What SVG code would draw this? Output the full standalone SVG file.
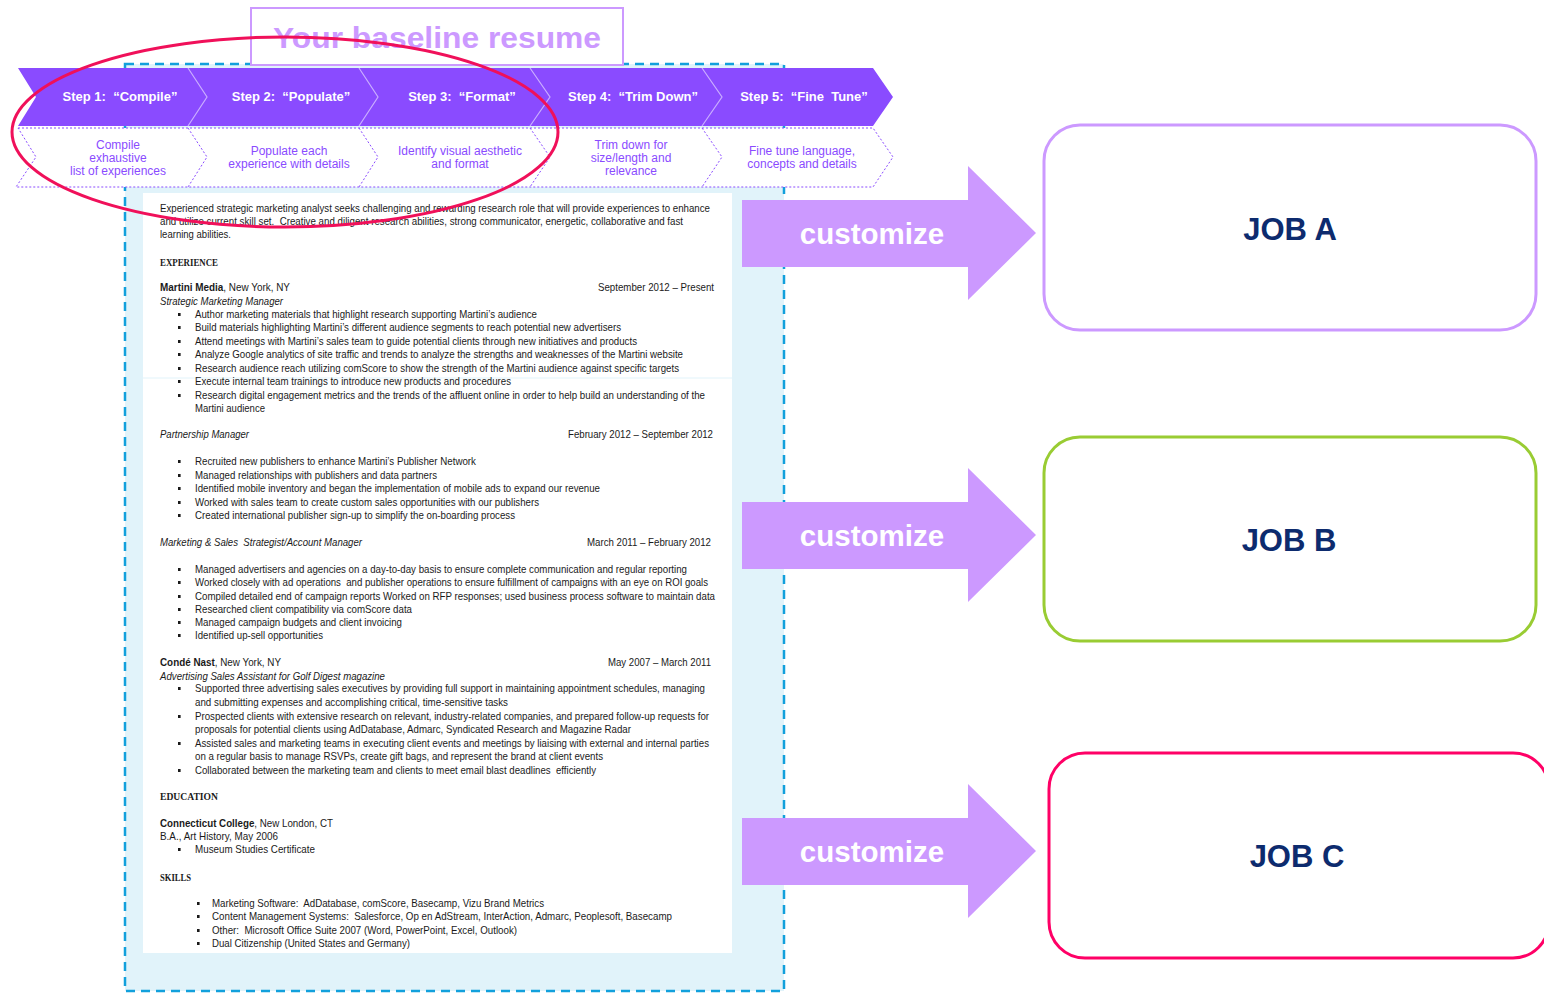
<svg xmlns="http://www.w3.org/2000/svg" xmlns:xlink="http://www.w3.org/1999/xlink" width="1544" height="995" viewBox="0 0 1544 995">
<defs>
<style>
.band{fill:#8A4BFF}
.div{fill:none;stroke:#FFFFFF;stroke-opacity:0.55;stroke-width:1.2}
.dash{fill:none;stroke:#8A4BFF;stroke-width:1;stroke-dasharray:2 2}
.step{font-family:"Liberation Sans",Arial,sans-serif;font-weight:bold;font-size:13px;fill:#FFFFFF;text-anchor:middle;white-space:pre}
.sub{font-family:"Liberation Sans",Arial,sans-serif;font-size:12px;fill:#8A4BFF;text-anchor:middle}
.r{font-family:"Liberation Sans Narrow","Liberation Sans",Arial,sans-serif;font-size:10.5px;fill:#1A1A1A;white-space:pre}
.rb{font-weight:bold}
.ri{font-style:italic}
.rh{font-family:"Liberation Serif","Times New Roman",serif;font-size:11px;font-weight:bold;fill:#1A1A1A}
.rd{text-anchor:end}
.arrow{fill:#CC99FF}
.cust{font-family:"Liberation Sans",Arial,sans-serif;font-weight:bold;font-size:29.5px;fill:#FFFFFF;text-anchor:middle}
.job{fill:#FFFFFF;stroke-width:3}
.jobt{font-family:"Liberation Sans",Arial,sans-serif;font-weight:bold;font-size:31px;fill:#0D2B6E;text-anchor:middle}
</style>
<rect id="b" x="0" y="-5" width="2.6" height="3" fill="#1A1A1A"/>
</defs>

<g id="resume-frame">
<rect x="125" y="64" width="659" height="927" fill="#E1F3FA" stroke="#12A0DC" stroke-width="2.5" stroke-dasharray="9 6"/>
<rect x="143" y="193" width="589" height="760" fill="#FFFFFF"/>
<line x1="143" y1="378" x2="732" y2="378" stroke="#E1F3FA" stroke-width="1"/>
</g>

<g id="title">
<rect x="251" y="8" width="372" height="57" fill="#FFFFFF" stroke="#CC99FF" stroke-width="2"/>
<text x="437" y="48" font-family="'Liberation Sans',Arial,sans-serif" font-weight="bold" font-size="30" fill="#CC99FF" text-anchor="middle" textLength="328" lengthAdjust="spacingAndGlyphs">Your baseline resume</text>
</g>

<g id="steps">
<path class="band" d="M18,68 L873,68 L893,97 L873,126 L18,126 L36,97 Z"/>
<polyline class="div" points="188,68 207,97 188,126"/>
<polyline class="div" points="359,68 378,97 359,126"/>
<polyline class="div" points="530,68 550,97 530,126"/>
<polyline class="div" points="702,68 722,97 702,126"/>
<text class="step" x="120" y="101">Step 1:  “Compile”</text>
<text class="step" x="291" y="101">Step 2:  “Populate”</text>
<text class="step" x="462" y="101">Step 3:  “Format”</text>
<text class="step" x="633" y="101">Step 4:  “Trim Down”</text>
<text class="step" x="804" y="101">Step 5:  “Fine  Tune”</text>
</g>

<g id="substeps">
<path d="M18,128 L873,128 L893,157 L873,187 L16,187 L36,157 Z" fill="#FFFFFF"/>
<path class="dash" d="M18,128 L873,128 L893,157 L873,187 L16,187 L36,157 Z"/>
<polyline class="dash" points="188,128 207,157 188,187"/>
<polyline class="dash" points="359,128 378,157 359,187"/>
<polyline class="dash" points="530,128 550,157 530,187"/>
<polyline class="dash" points="702,128 722,157 702,187"/>
<text class="sub" x="118" y="149">Compile</text>
<text class="sub" x="118" y="162">exhaustive</text>
<text class="sub" x="118" y="175">list of experiences</text>
<text class="sub" x="289" y="155">Populate each</text>
<text class="sub" x="289" y="168">experience with details</text>
<text class="sub" x="460" y="155">Identify visual aesthetic</text>
<text class="sub" x="460" y="168">and format</text>
<text class="sub" x="631" y="149">Trim down for</text>
<text class="sub" x="631" y="162">size/length and</text>
<text class="sub" x="631" y="175">relevance</text>
<text class="sub" x="802" y="155">Fine tune language,</text>
<text class="sub" x="802" y="168">concepts and details</text>
</g>

<g id="resume-text">
<text class="r" x="160" y="212" textLength="550" lengthAdjust="spacingAndGlyphs">Experienced strategic marketing analyst seeks challenging and rewarding research role that will provide experiences to enhance</text>
<text class="r" x="160" y="225" textLength="523" lengthAdjust="spacingAndGlyphs">and utilize current skill set.  Creative and diligent research abilities, strong communicator, energetic, collaborative and fast</text>
<text class="r" x="160" y="238" textLength="71" lengthAdjust="spacingAndGlyphs">learning abilities.</text>
<text class="rh" x="160" y="266" textLength="58" lengthAdjust="spacingAndGlyphs">EXPERIENCE</text>

<text class="r" x="160" y="291" textLength="130" lengthAdjust="spacingAndGlyphs"><tspan class="rb">Martini Media</tspan>, New York, NY</text>
<text class="r rd" x="714" y="291" textLength="116" lengthAdjust="spacingAndGlyphs">September 2012 – Present</text>
<text class="r ri" x="160" y="305" textLength="123" lengthAdjust="spacingAndGlyphs">Strategic Marketing Manager</text>
<use xlink:href="#b" x="178" y="318"/><text class="r" x="195" y="318" textLength="342" lengthAdjust="spacingAndGlyphs">Author marketing materials that highlight research supporting Martini’s audience</text>
<use xlink:href="#b" x="178" y="331"/><text class="r" x="195" y="331" textLength="426" lengthAdjust="spacingAndGlyphs">Build materials highlighting Martini’s different audience segments to reach potential new advertisers</text>
<use xlink:href="#b" x="178" y="345"/><text class="r" x="195" y="345" textLength="442" lengthAdjust="spacingAndGlyphs">Attend meetings with Martini’s sales team to guide potential clients through new initiatives and products</text>
<use xlink:href="#b" x="178" y="358"/><text class="r" x="195" y="358" textLength="488" lengthAdjust="spacingAndGlyphs">Analyze Google analytics of site traffic and trends to analyze the strengths and weaknesses of the Martini website</text>
<use xlink:href="#b" x="178" y="372"/><text class="r" x="195" y="372" textLength="484" lengthAdjust="spacingAndGlyphs">Research audience reach utilizing comScore to show the strength of the Martini audience against specific targets</text>
<use xlink:href="#b" x="178" y="385"/><text class="r" x="195" y="385" textLength="316" lengthAdjust="spacingAndGlyphs">Execute internal team trainings to introduce new products and procedures</text>
<use xlink:href="#b" x="178" y="399"/><text class="r" x="195" y="399" textLength="510" lengthAdjust="spacingAndGlyphs">Research digital engagement metrics and the trends of the affluent online in order to help build an understanding of the</text>
<text class="r" x="195" y="412" textLength="70" lengthAdjust="spacingAndGlyphs">Martini audience</text>

<text class="r ri" x="160" y="438" textLength="89" lengthAdjust="spacingAndGlyphs">Partnership Manager</text>
<text class="r rd" x="713" y="438" textLength="145" lengthAdjust="spacingAndGlyphs">February 2012 – September 2012</text>
<use xlink:href="#b" x="178" y="465"/><text class="r" x="195" y="465" textLength="281" lengthAdjust="spacingAndGlyphs">Recruited new publishers to enhance Martini’s Publisher Network</text>
<use xlink:href="#b" x="178" y="479"/><text class="r" x="195" y="479" textLength="242" lengthAdjust="spacingAndGlyphs">Managed relationships with publishers and data partners</text>
<use xlink:href="#b" x="178" y="492"/><text class="r" x="195" y="492" textLength="405" lengthAdjust="spacingAndGlyphs">Identified mobile inventory and began the implementation of mobile ads to expand our revenue</text>
<use xlink:href="#b" x="178" y="506"/><text class="r" x="195" y="506" textLength="344" lengthAdjust="spacingAndGlyphs">Worked with sales team to create custom sales opportunities with our publishers</text>
<use xlink:href="#b" x="178" y="519"/><text class="r" x="195" y="519" textLength="320" lengthAdjust="spacingAndGlyphs">Created international publisher sign-up to simplify the on-boarding process</text>

<text class="r ri" x="160" y="546" textLength="202" lengthAdjust="spacingAndGlyphs">Marketing &amp; Sales  Strategist/Account Manager</text>
<text class="r rd" x="711" y="546" textLength="124" lengthAdjust="spacingAndGlyphs">March 2011 – February 2012</text>
<use xlink:href="#b" x="178" y="573"/><text class="r" x="195" y="573" textLength="492" lengthAdjust="spacingAndGlyphs">Managed advertisers and agencies on a day-to-day basis to ensure complete communication and regular reporting</text>
<use xlink:href="#b" x="178" y="586"/><text class="r" x="195" y="586" textLength="513" lengthAdjust="spacingAndGlyphs">Worked closely with ad operations  and publisher operations to ensure fulfillment of campaigns with an eye on ROI goals</text>
<use xlink:href="#b" x="178" y="600"/><text class="r" x="195" y="600" textLength="520" lengthAdjust="spacingAndGlyphs">Compiled detailed end of campaign reports Worked on RFP responses; used business process software to maintain data</text>
<use xlink:href="#b" x="178" y="613"/><text class="r" x="195" y="613" textLength="217" lengthAdjust="spacingAndGlyphs">Researched client compatibility via comScore data</text>
<use xlink:href="#b" x="178" y="626"/><text class="r" x="195" y="626" textLength="207" lengthAdjust="spacingAndGlyphs">Managed campaign budgets and client invoicing</text>
<use xlink:href="#b" x="178" y="639"/><text class="r" x="195" y="639" textLength="128" lengthAdjust="spacingAndGlyphs">Identified up-sell opportunities</text>

<text class="r" x="160" y="666" textLength="121" lengthAdjust="spacingAndGlyphs"><tspan class="rb">Condé Nast</tspan>, New York, NY</text>
<text class="r rd" x="711" y="666" textLength="103" lengthAdjust="spacingAndGlyphs">May 2007 – March 2011</text>
<text class="r ri" x="160" y="680" textLength="225" lengthAdjust="spacingAndGlyphs">Advertising Sales Assistant for Golf Digest magazine</text>
<use xlink:href="#b" x="178" y="692"/><text class="r" x="195" y="692" textLength="510" lengthAdjust="spacingAndGlyphs">Supported three advertising sales executives by providing full support in maintaining appointment schedules, managing</text>
<text class="r" x="195" y="706" textLength="313" lengthAdjust="spacingAndGlyphs">and submitting expenses and accomplishing critical, time-sensitive tasks</text>
<use xlink:href="#b" x="178" y="720"/><text class="r" x="195" y="720" textLength="514" lengthAdjust="spacingAndGlyphs">Prospected clients with extensive research on relevant, industry-related companies, and prepared follow-up requests for</text>
<text class="r" x="195" y="733" textLength="436" lengthAdjust="spacingAndGlyphs">proposals for potential clients using AdDatabase, Admarc, Syndicated Research and Magazine Radar</text>
<use xlink:href="#b" x="178" y="747"/><text class="r" x="195" y="747" textLength="514" lengthAdjust="spacingAndGlyphs">Assisted sales and marketing teams in executing client events and meetings by liaising with external and internal parties</text>
<text class="r" x="195" y="760" textLength="408" lengthAdjust="spacingAndGlyphs">on a regular basis to manage RSVPs, create gift bags, and represent the brand at client events</text>
<use xlink:href="#b" x="178" y="774"/><text class="r" x="195" y="774" textLength="401" lengthAdjust="spacingAndGlyphs">Collaborated between the marketing team and clients to meet email blast deadlines  efficiently</text>

<text class="rh" x="160" y="800" textLength="58" lengthAdjust="spacingAndGlyphs">EDUCATION</text>
<text class="r" x="160" y="827" textLength="173" lengthAdjust="spacingAndGlyphs"><tspan class="rb">Connecticut College</tspan>, New London, CT</text>
<text class="r" x="160" y="840" textLength="118" lengthAdjust="spacingAndGlyphs">B.A., Art History, May 2006</text>
<use xlink:href="#b" x="178" y="853"/><text class="r" x="195" y="853" textLength="120" lengthAdjust="spacingAndGlyphs">Museum Studies Certificate</text>

<text class="rh" x="160" y="881" textLength="31" lengthAdjust="spacingAndGlyphs">SKILLS</text>
<use xlink:href="#b" x="197" y="907"/><text class="r" x="212" y="907" textLength="332" lengthAdjust="spacingAndGlyphs">Marketing Software:  AdDatabase, comScore, Basecamp, Vizu Brand Metrics</text>
<use xlink:href="#b" x="197" y="920"/><text class="r" x="212" y="920" textLength="460" lengthAdjust="spacingAndGlyphs">Content Management Systems:  Salesforce, Op en AdStream, InterAction, Admarc, Peoplesoft, Basecamp</text>
<use xlink:href="#b" x="197" y="934"/><text class="r" x="212" y="934" textLength="305" lengthAdjust="spacingAndGlyphs">Other:  Microsoft Office Suite 2007 (Word, PowerPoint, Excel, Outlook)</text>
<use xlink:href="#b" x="197" y="947"/><text class="r" x="212" y="947" textLength="198" lengthAdjust="spacingAndGlyphs">Dual Citizenship (United States and Germany)</text>
</g>

<g id="highlight">
<ellipse cx="285" cy="132" rx="273" ry="95" fill="none" stroke="#F0105A" stroke-width="3"/>
</g>

<g id="connectors">
<g id="arrow-a">
<path class="arrow" d="M742,200 L968,200 L968,166 L1036,233 L968,300 L968,267 L742,267 Z"/>
<text class="cust" x="872" y="244">customize</text>
</g>
<g id="arrow-b">
<path class="arrow" d="M742,502 L968,502 L968,468 L1036,535 L968,602 L968,569 L742,569 Z"/>
<text class="cust" x="872" y="546">customize</text>
</g>
<g id="arrow-c">
<path class="arrow" d="M742,818 L968,818 L968,784 L1036,851 L968,918 L968,885 L742,885 Z"/>
<text class="cust" x="872" y="862">customize</text>
</g>
</g>

<g id="job-a">
<rect class="job" x="1044" y="125" width="492" height="205" rx="36" stroke="#CC99FF"/>
<text class="jobt" x="1290" y="240">JOB A</text>
</g>
<g id="job-b">
<rect class="job" x="1044" y="437" width="492" height="204" rx="36" stroke="#99CC33"/>
<text class="jobt" x="1289" y="551">JOB B</text>
</g>
<g id="job-c">
<rect class="job" x="1049" y="753" width="500" height="205" rx="36" stroke="#FF0066"/>
<text class="jobt" x="1297" y="867">JOB C</text>
</g>
</svg>
